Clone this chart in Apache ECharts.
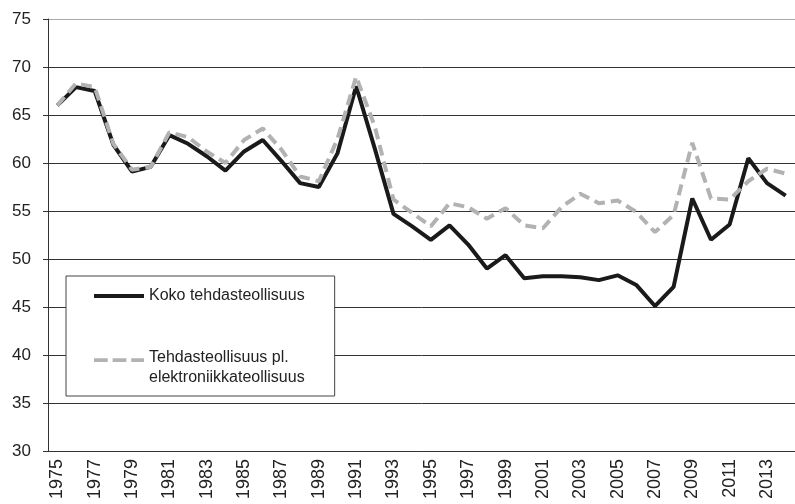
<!DOCTYPE html>
<html>
<head>
<meta charset="utf-8">
<script src="https://cdn.jsdelivr.net/npm/echarts@6/dist/echarts.min.js"></script>
<style>
  html, body { margin: 0; padding: 0; background: #fff; }
  #main { width: 795px; height: 504px; }
</style>
</head>
<body>
<div id="main"></div>
<script>
// vuodet 1975-2014
var years = [];
for (var y = 1975; y <= 2014; y++) years.push(String(y));

var kokoNimi = 'Koko tehdasteollisuus';
var koko = [66.0, 67.9, 67.5, 61.9, 59.1, 59.6, 62.9, 62.0, 60.7, 59.2,
            61.2, 62.4, 60.2, 57.9, 57.5, 61.0, 68.0, 61.5, 54.7, 53.4,
            52.0, 53.5, 51.5, 49.0, 50.4, 48.0, 48.2, 48.2, 48.1, 47.8,
            48.3, 47.3, 45.1, 47.1, 56.3, 52.0, 53.6, 60.5, 57.9, 56.6];

var plNimi = 'Tehdasteollisuus pl.\nelektroniikkateollisuus';
var plElektro = [66.0, 68.3, 67.9, 62.0, 59.3, 59.6, 63.2, 62.7, 61.2, 60.0,
                 62.4, 63.6, 61.4, 58.6, 58.1, 62.5, 69.0, 63.8, 56.2, 54.8,
                 53.4, 55.8, 55.4, 54.2, 55.3, 53.5, 53.2, 55.4, 56.8, 55.8,
                 56.1, 54.9, 52.8, 54.6, 62.1, 56.3, 56.2, 58.1, 59.4, 58.9];

var musta = '#1a1a1a';
var harmaa = '#b2b2b4';

// selitteen kuvakkeet: 51x20 laatikko, viiva kohdistetaan tekstiriviin
var kuvakeMusta = 'path://M0,0h0.05v0.05h-0.05z M0,8h51v4h-51z M0,19.95h0.05v0.05h-0.05z';
var kuvakeHarmaa = 'path://M0,0h14v4h-14z M19,0h14v4h-14z M38,0h13v4h-13z M0,19.95h0.05v0.05h-0.05z';

var chart = echarts.init(document.getElementById('main'));

var option = {
    animation: false,
    textStyle: { fontFamily: 'Liberation Sans, Arial, sans-serif' },
    grid: { left: 48, top: 19, width: 753, height: 432 },
    legend: {
        orient: 'vertical',
        left: 66,
        top: 276,
        padding: [10, 30, 8, 28],
        itemGap: 42,
        itemWidth: 50,
        itemHeight: 20,
        backgroundColor: '#fff',
        borderColor: '#444',
        borderWidth: 1,
        z: 10,
        textStyle: { fontSize: 16, color: '#222', lineHeight: 20 },
        data: [
            { name: kokoNimi, icon: kuvakeMusta, itemStyle: { color: musta } },
            { name: plNimi, icon: kuvakeHarmaa, itemStyle: { color: harmaa } }
        ]
    },
    xAxis: {
        type: 'category',
        data: years,
        boundaryGap: true,
        axisLine: { lineStyle: { color: '#333', width: 1 } },
        axisTick: { interval: 0, length: 5, lineStyle: { color: '#333' } },
        axisLabel: { interval: 1, rotate: 90, fontSize: 18, color: '#222', margin: 8 },
        splitLine: { show: false }
    },
    yAxis: {
        type: 'value',
        min: 30,
        max: 75,
        interval: 5,
        axisLine: { show: true, lineStyle: { color: '#333', width: 1 } },
        axisTick: { show: true, length: 5, lineStyle: { color: '#333' } },
        axisLabel: { fontSize: 17, color: '#222', margin: 17 },
        splitLine: {
            show: true,
            lineStyle: {
                color: ['#333', '#333', '#333', '#333', '#333', '#333', '#333', '#333', '#333', '#aaa'],
                width: 1
            }
        }
    },
    series: [
        {
            name: kokoNimi,
            type: 'line',
            data: koko,
            symbol: 'none',
            lineStyle: { color: musta, width: 4 },
            itemStyle: { color: musta }
        },
        {
            name: plNimi,
            type: 'line',
            data: plElektro,
            symbol: 'none',
            lineStyle: { color: harmaa, width: 4, type: [11, 6] },
            itemStyle: { color: harmaa }
        }
    ]
};

chart.setOption(option);
</script>
</body>
</html>
